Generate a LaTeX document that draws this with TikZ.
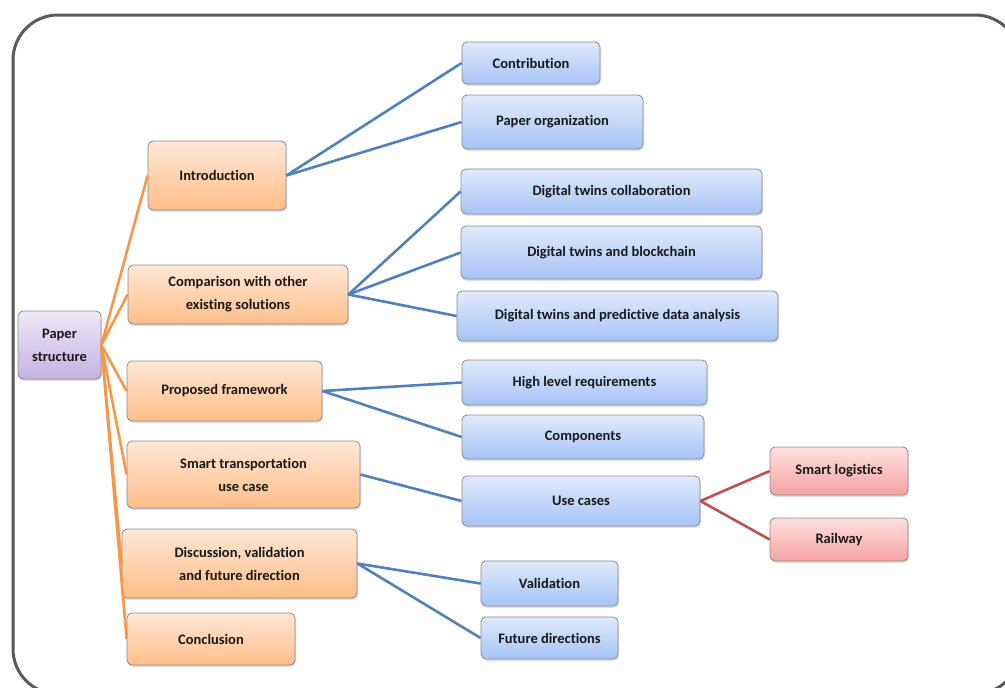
\documentclass[tikz,border=0pt]{standalone}
\usepackage{fontspec}
\setmainfont{Carlito}[Ligatures=NoCommon]
\usetikzlibrary{shadows}
\definecolor{frameC}{HTML}{5A5A5A}
\definecolor{boxline}{HTML}{8A8A8A}
\definecolor{orTop}{HTML}{FFE7D7}
\definecolor{orBot}{HTML}{FFBE88}
\definecolor{blTop}{HTML}{E1EAFC}
\definecolor{blBot}{HTML}{A5C3F5}
\definecolor{puTop}{HTML}{EFE8F8}
\definecolor{puBot}{HTML}{C4B2E2}
\definecolor{rdTop}{HTML}{FFE0E0}
\definecolor{rdBot}{HTML}{F4A2A2}
\definecolor{orLine}{HTML}{F79646}
\definecolor{blLine}{HTML}{4F81BD}
\definecolor{rdLine}{HTML}{C0504D}
\tikzset{
  box/.style={rounded corners=5pt, draw=boxline, line width=0.8pt,
    align=center, inner sep=2pt, text=black!90,
    font=\fontsize{14.5}{23}\selectfont\bfseries,
    drop shadow={shadow xshift=1pt, shadow yshift=-2pt, opacity=0.25}},
  rootbox/.style={box, top color=puTop, bottom color=puBot},
  orbox/.style={box, top color=orTop, bottom color=orBot},
  blbox/.style={box, top color=blTop, bottom color=blBot},
  rdbox/.style={box, top color=rdTop, bottom color=rdBot},
  orlink/.style={draw=orLine, line width=2.6pt},
  bllink/.style={draw=blLine, line width=2.6pt},
  rdlink/.style={draw=rdLine, line width=2.6pt},
}
\newcommand{\bx}[7]{%
  \node[#1, minimum width=#5pt, minimum height=#6pt] (#2) at (#3,#4) {#7};}
\begin{document}
\begin{tikzpicture}[x=1pt, y=-1pt]
\useasboundingbox (0,0) rectangle (1005,688);
% outer frame
\draw[frameC, line width=3pt, rounded corners=45pt] (13,15) rectangle (1020,694);

% boxes
\bx{rootbox}{root}{59.5}{345}{83}{68}{Paper\\structure}
\bx{orbox}{intro}{217}{175.5}{138}{69}{Introduction}
\bx{orbox}{comp}{238}{294.5}{220}{59}{Comparison with other\\existing solutions}
\bx{orbox}{prop}{224.5}{391}{195}{60}{Proposed framework}
\bx{orbox}{smart}{243.5}{474.5}{233}{67}{Smart transportation\\use case}
\bx{orbox}{disc}{239.5}{563.5}{235}{69}{Discussion, validation\\and future direction}
\bx{orbox}{concl}{211}{639}{168}{52}{Conclusion}

\bx{blbox}{contrib}{531}{63}{138}{42}{Contribution}
\bx{blbox}{porg}{552.5}{122}{181}{54}{Paper organization}
\bx{blbox}{dtc}{611.5}{191.5}{301}{45}{Digital twins collaboration}
\bx{blbox}{dtb}{611.5}{252.5}{301}{53}{Digital twins and blockchain}
\bx{blbox}{dtp}{617.5}{316}{321}{50}{Digital twins and predictive data analysis}
\bx{blbox}{hlr}{584.5}{382.5}{245}{45}{High level requirements}
\bx{blbox}{comps}{583}{437}{242}{44}{Components}
\bx{blbox}{uc}{581}{501}{238}{50}{Use cases}
\bx{blbox}{val}{549.5}{583.5}{137}{45}{Validation}
\bx{blbox}{fut}{549.5}{638}{137}{42}{Future directions}

\bx{rdbox}{sl}{839}{471}{138}{48}{Smart logistics}
\bx{rdbox}{rw}{839}{539.5}{138}{43}{Railway}

% connectors
\foreach \t in {intro,comp,prop,smart,disc,concl}
  \draw[orlink] (root.east) -- (\t.west);
\draw[bllink] (intro.east) -- (contrib.west);
\draw[bllink] (intro.east) -- (porg.west);
\draw[bllink] (comp.east) -- (dtc.west);
\draw[bllink] (comp.east) -- (dtb.west);
\draw[bllink] (comp.east) -- (dtp.west);
\draw[bllink] (prop.east) -- (hlr.west);
\draw[bllink] (prop.east) -- (comps.west);
\draw[bllink] (smart.east) -- (uc.west);
\draw[bllink] (disc.east) -- (val.west);
\draw[bllink] (disc.east) -- (fut.west);
\draw[rdlink] (uc.east) -- (sl.west);
\draw[rdlink] (uc.east) -- (rw.west);
\end{tikzpicture}
\end{document}
